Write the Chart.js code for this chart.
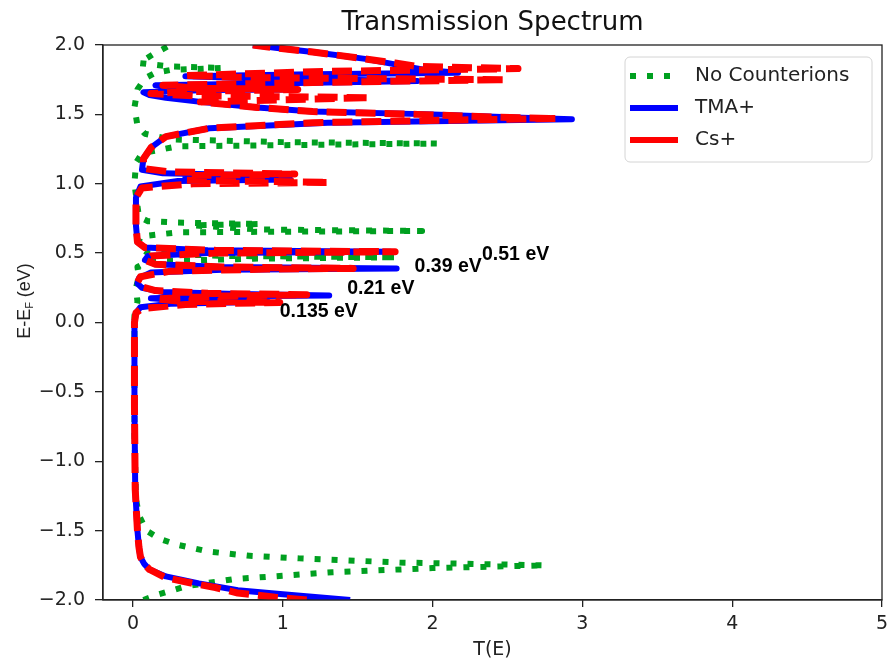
<!DOCTYPE html>
<html>
<head>
<meta charset="utf-8">
<script src="https://cdn.jsdelivr.net/npm/chart.js@4.4.0/dist/chart.umd.min.js"></script>
<style>
  html, body { margin: 0; padding: 0; background: #fff; }
</style>
</head>
<body>
<canvas id="chart" width="889" height="665"></canvas>
<script>
// --- Data ---
const chartTitle = 'Transmission Spectrum';
const seriesNames = ['No Counterions', 'TMA+', 'Cs+'];
const xTicks = [0, 1, 2, 3, 4, 5];
const yTicks = [-2, -1.5, -1, -0.5, 0, 0.5, 1, 1.5, 2];

// No Counterions: energy E-EF (eV) and T(E)
const noCountE = [-2.00, -1.96, -1.90, -1.85, -1.80, -1.77, -1.75, -1.73, -1.70, -1.68, -1.65, -1.60, -1.56, -1.50, -1.39, -1.27,
  -0.80, -0.20, 0.05, 0.15, 0.25, 0.33, 0.40, 0.44, 0.46, 0.47, 0.48, 0.50, 0.55,
  0.62, 0.65, 0.66, 0.67, 0.70, 0.71, 0.72, 0.73, 0.76, 1.00, 1.15, 1.22, 1.27, 1.29, 1.30, 1.32, 1.36, 1.42,
  1.55, 1.68, 1.76, 1.80, 1.82, 1.835, 1.845, 1.87, 1.93, 2.00];
const noCountT = [0.07, 0.17, 0.36, 0.67, 1.33, 2.00, 2.75, 1.78, 1.11, 0.76, 0.50, 0.29, 0.18, 0.09, 0.04, 0.02,
  0.01, 0.01, 0.01, 0.03, 0.02, 0.04, 0.03, 0.10, 0.80, 1.76, 0.60, 0.10, 0.03,
  0.05, 0.30, 1.93, 0.85, 0.40, 0.85, 0.30, 0.10, 0.04, 0.01, 0.02, 0.06, 0.30, 2.03, 1.00, 0.25, 0.08, 0.03,
  0.01, 0.03, 0.08, 0.15, 0.25, 0.60, 0.25, 0.04, 0.13, 0.25];

// TMA+
const tmaE = [-2.00, -1.96, -1.93, -1.88, -1.83, -1.78, -1.74, -1.69, -1.62, -1.50, -1.20, -0.60, 0.00, 0.07, 0.11, 0.135, 0.15, 0.16,
  0.175, 0.19, 0.195, 0.205, 0.22, 0.25, 0.28, 0.32, 0.36, 0.38, 0.39, 0.40, 0.42, 0.45, 0.48, 0.50, 0.51, 0.52,
  0.54, 0.58, 0.70, 0.90, 0.98, 1.02, 1.03, 1.045, 1.06, 1.075, 1.10, 1.18, 1.26, 1.34, 1.40, 1.44, 1.465, 1.475,
  1.50, 1.52, 1.55, 1.59, 1.62, 1.64, 1.66, 1.675, 1.68, 1.69, 1.71, 1.725, 1.74, 1.76, 1.775, 1.79, 1.80, 1.82,
  1.86, 1.90, 1.95, 1.98, 2.00];
const tmaT = [1.45, 1.02, 0.70, 0.44, 0.22, 0.11, 0.075, 0.05, 0.04, 0.03, 0.015, 0.01, 0.01, 0.02, 0.05, 0.25, 0.90, 0.30,
  0.12, 0.60, 1.31, 0.70, 0.20, 0.06, 0.03, 0.04, 0.12, 0.60, 1.76, 0.60, 0.15, 0.08, 0.10, 0.50, 1.72, 0.50,
  0.08, 0.03, 0.02, 0.02, 0.05, 0.30, 1.05, 0.35, 0.90, 0.20, 0.06, 0.07, 0.12, 0.22, 0.51, 1.30, 2.93, 2.60,
  2.00, 1.20, 0.83, 0.45, 0.22, 0.11, 0.07, 0.50, 1.05, 0.30, 0.15, 1.00, 1.90, 0.80, 0.35, 1.20, 2.17, 1.95,
  1.75, 1.55, 1.20, 0.95, 0.80];

// Cs+
const csE = [-2.00, -1.98, -1.95, -1.91, -1.88, -1.84, -1.78, -1.74, -1.69, -1.62, -1.50, -1.20, -0.60, 0.00, 0.07, 0.10, 0.13, 0.145,
  0.155, 0.17, 0.19, 0.20, 0.21, 0.23, 0.26, 0.29, 0.33, 0.37, 0.385, 0.39, 0.40, 0.42, 0.45, 0.48, 0.50, 0.51,
  0.52, 0.54, 0.58, 0.70, 0.90, 0.97, 1.00, 1.01, 1.025, 1.06, 1.07, 1.085, 1.11, 1.18, 1.26, 1.34, 1.40, 1.44,
  1.46, 1.47, 1.48, 1.50, 1.52, 1.55, 1.59, 1.605, 1.62, 1.635, 1.65, 1.665, 1.68, 1.69, 1.71, 1.73, 1.75, 1.765,
  1.78, 1.81, 1.83, 1.845, 1.87, 1.90, 1.95, 1.98, 2.00];
const csT = [1.16, 0.95, 0.70, 0.55, 0.40, 0.22, 0.11, 0.075, 0.05, 0.04, 0.03, 0.015, 0.01, 0.01, 0.02, 0.06, 0.35, 0.98,
  0.30, 0.15, 0.55, 1.16, 0.50, 0.15, 0.05, 0.03, 0.05, 0.25, 0.90, 1.47, 0.60, 0.15, 0.08, 0.12, 0.55, 1.75,
  0.55, 0.08, 0.03, 0.02, 0.02, 0.06, 0.40, 1.31, 0.35, 0.40, 1.08, 0.25, 0.07, 0.07, 0.12, 0.22, 0.51, 1.20,
  2.20, 2.83, 2.40, 1.90, 1.20, 0.83, 0.45, 1.00, 1.58, 0.40, 0.12, 0.40, 1.10, 0.40, 0.20, 1.20, 2.48, 0.80,
  0.35, 1.30, 2.57, 1.90, 1.75, 1.55, 1.20, 0.95, 0.80];

// peak annotations (anchor in data units: T, E)
const peakLabels = ['0.51 eV', '0.39 eV', '0.21 eV', '0.135 eV'];
const peakLabelT = [2.33, 1.88, 1.43, 0.98];
const peakLabelE = [0.49, 0.40, 0.245, 0.08];

// --- Styles ---
const colors = ['#00a020', '#0000ff', '#ff0000'];
const inkColor = '#222';
const tickFont = { family: 'DejaVu Sans', size: 19 };

const toPoints = (E, T) => E.map((e, i) => ({ x: T[i], y: e }));

// --- Title, y label, spines, legend and peak labels ---
const decorPlugin = {
    id: 'decor',
    afterDraw(chart) {
        const { ctx, chartArea: a, scales: { x, y } } = chart;
        ctx.save();

        // top / right spines
        ctx.strokeStyle = inkColor;
        ctx.lineWidth = 1.3;
        ctx.strokeRect(a.left, a.top, a.right - a.left, a.bottom - a.top);

        // title
        ctx.fillStyle = '#111';
        ctx.font = '26px "DejaVu Sans"';
        ctx.textAlign = 'center';
        ctx.textBaseline = 'alphabetic';
        ctx.fillText(chartTitle, (a.left + a.right) / 2, 30);

        // y label with subscript F
        ctx.save();
        ctx.translate(25, a.top + 256);
        ctx.rotate(-Math.PI / 2);
        const f1 = '18px "Liberation Sans"', f2 = '11px "Liberation Sans"';
        ctx.font = f1;
        const w1 = ctx.measureText('E-E').width;
        const w3 = ctx.measureText(' (eV)').width;
        ctx.font = f2;
        const w2 = ctx.measureText('F').width;
        let sx = -(w1 + w2 + w3) / 2;
        ctx.textAlign = 'left';
        ctx.textBaseline = 'middle';
        ctx.fillStyle = inkColor;
        ctx.font = f1; ctx.fillText('E-E', sx, 0); sx += w1;
        ctx.font = f2; ctx.fillText('F', sx, 5); sx += w2;
        ctx.font = f1; ctx.fillText(' (eV)', sx, 0);
        ctx.restore();

        // peak labels
        ctx.fillStyle = '#000';
        ctx.font = 'bold 19.5px "Liberation Sans"';
        ctx.textAlign = 'left';
        ctx.textBaseline = 'middle';
        peakLabels.forEach((txt, i) => {
            ctx.fillText(txt, x.getPixelForValue(peakLabelT[i]), y.getPixelForValue(peakLabelE[i]));
        });

        // legend
        const bw = 247, bh = 105;
        const bx = a.right - bw - 10, by = a.top + 12;
        ctx.beginPath();
        ctx.roundRect(bx, by, bw, bh, 5);
        ctx.fillStyle = 'rgba(255,255,255,0.8)';
        ctx.fill();
        ctx.strokeStyle = '#d4d4d4';
        ctx.lineWidth = 1;
        ctx.stroke();
        const rowY = [by + 19, by + 51, by + 83];
        ctx.font = '20px "DejaVu Sans"';
        ctx.textBaseline = 'middle';
        seriesNames.forEach((name, i) => {
            ctx.beginPath();
            ctx.setLineDash(i === 0 ? [6, 11] : []);
            ctx.lineCap = 'butt';
            ctx.lineWidth = 6;
            ctx.strokeStyle = colors[i];
            ctx.moveTo(bx + 5, rowY[i]);
            ctx.lineTo(bx + 53, rowY[i]);
            ctx.stroke();
            ctx.setLineDash([]);
            ctx.fillStyle = inkColor;
            ctx.fillText(name, bx + 70, rowY[i]);
        });

        ctx.restore();
    }
};

const axisGrid = { drawOnChartArea: false, drawTicks: true, color: inkColor, lineWidth: 1.3 };

new Chart(document.getElementById('chart'), {
    type: 'scatter',
    data: {
        datasets: [
            {
                label: seriesNames[0], data: toPoints(noCountE, noCountT),
                borderColor: colors[0], backgroundColor: colors[0], borderWidth: 6,
                borderDash: [6, 11], borderCapStyle: 'butt', order: 3
            },
            {
                label: seriesNames[1], data: toPoints(tmaE, tmaT),
                borderColor: colors[1], backgroundColor: colors[1], borderWidth: 6, order: 2
            },
            {
                label: seriesNames[2], data: toPoints(csE, csT),
                borderColor: colors[2], backgroundColor: colors[2], borderWidth: 7,
                borderDash: [20, 9], borderCapStyle: 'butt', order: 1
            }
        ].map(d => ({ ...d, showLine: true, pointRadius: 0, tension: 0, borderJoinStyle: 'round' }))
    },
    options: {
        responsive: false,
        animation: false,
        devicePixelRatio: 1,
        layout: { padding: { top: 45, right: 7, left: 0, bottom: 0 } },
        plugins: { legend: { display: false }, title: { display: false }, tooltip: { enabled: false } },
        scales: {
            x: {
                type: 'linear', min: -0.2, max: 5,
                afterBuildTicks: s => { s.ticks = xTicks.map(v => ({ value: v })); },
                afterFit: s => { s.height = 65; s.paddingRight = 0; s.paddingLeft = 0; },
                ticks: { font: tickFont, color: inkColor, padding: 6 },
                grid: { ...axisGrid, tickLength: 7 },
                border: { color: inkColor, width: 1.3 },
                title: { display: true, text: 'T(E)', font: tickFont, color: inkColor, padding: { top: 0, bottom: 4 } }
            },
            y: {
                type: 'linear', min: -2, max: 2,
                afterBuildTicks: s => { s.ticks = yTicks.map(v => ({ value: v })); },
                afterFit: s => { s.width = 103; },
                ticks: { font: tickFont, color: inkColor, padding: 10, callback: v => v.toFixed(1).replace('-', '\u2212') },
                grid: { ...axisGrid, tickLength: 8 },
                border: { color: inkColor, width: 1.3 }
            }
        }
    },
    plugins: [decorPlugin]
});
</script>
</body>
</html>
